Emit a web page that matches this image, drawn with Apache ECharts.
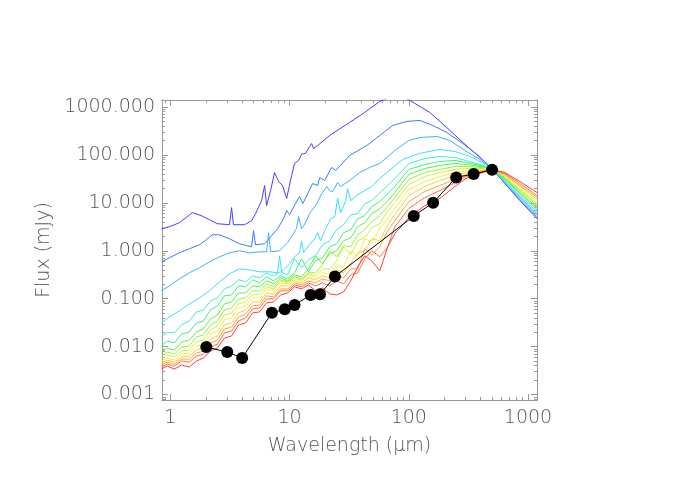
<!DOCTYPE html>
<html>
<head>
<meta charset="utf-8">
<script src="https://cdn.jsdelivr.net/npm/echarts@6/dist/echarts.min.js"></script>
<style>html,body{margin:0;padding:0;background:#fff}#chart{width:700px;height:500px}</style>
</head>
<body>
<div id="chart"></div>
<script>
// model SEDs, blue (top) to red (bottom); first four have their own wavelength sampling
var model1 = [[0.84,2.88],[0.98,3.18],[1.19,3.85],[1.53,6.25],[1.82,5.40],[2.13,4.45],[2.48,3.67],[3.13,3.50],[3.26,7.95],[3.38,3.50],[4.19,3.50],[4.80,4.25],[5.18,5.95],[5.82,11.1],[6.17,23.0],[6.41,8.76],[6.92,18.0],[7.48,43.0],[8.09,27.8],[8.73,23.0],[9.44,12.3],[10.4,37.2],[11.0,66.4],[11.9,76.7],[12.6,103],[13.6,108],[14.7,150],[15.3,173],[15.9,136],[17.2,157],[21.7,255],[31.9,476],[42.7,771],[57.1,1310],[69.3,1590],[84,1750],[102,1375],[150,771],[208,374],[284,182],[395,88.7],[498,52.1],[641,25.3],[857,11.1],[1190,4.67]];
var model2 = [[0.84,0.589],[0.98,0.714],[1.19,0.908],[1.44,1.10],[1.75,1.335],[2.0,1.70],[2.25,2.16],[2.58,2.16],[3.13,1.78],[3.8,1.40],[4.43,1.27],[4.8,1.21],[4.98,2.62],[5.18,1.335],[6.17,1.40],[7.06,2.06],[7.93,2.88],[8.9,4.67],[9.44,6.88],[10.0,5.67],[11.2,9.65],[12.1,13.5],[12.9,9.65],[14.2,15.6],[15.6,25.3],[17.2,23.0],[17.9,33.8],[19.7,29.2],[22.5,54.7],[24.4,47.3],[31.9,97.7],[44.4,157],[57.1,255],[73.4,412],[96,500],[124,525],[159,412],[208,294],[284,173],[373,103],[498,52.1],[641,25.3],[857,11.7],[1190,5.15]];
var model3 = [[0.84,0.146],[0.98,0.185],[1.19,0.259],[1.44,0.347],[1.75,0.441],[2.13,0.589],[2.58,0.749],[3.13,0.908],[3.8,1.0],[4.61,0.908],[5.82,0.953],[6.41,0.953],[6.66,2.38],[6.92,0.953],[8.24,1.0],[9.62,1.47],[10.6,2.16],[11.4,2.88],[11.9,5.15],[12.6,2.88],[13.6,3.85],[14.7,5.95],[16.9,9.65],[18.6,15.6],[20.5,21.9],[21.7,18.0],[23.0,17.2],[25.3,26.5],[26.8,21.9],[31.9,29.2],[38.7,43.0],[47.0,54.7],[57.1,66.4],[76.3,124],[100,200],[124,231],[172,243],[221,200],[295,124],[395,80.5],[498,52.1],[641,26.5],[857,12.9],[1190,5.67]];
var model4 = [[0.84,0.0312],[0.98,0.0416],[1.19,0.0556],[1.44,0.0778],[1.75,0.104],[2.13,0.146],[2.58,0.225],[3.13,0.330],[3.8,0.420],[4.61,0.401],[5.6,0.364],[6.79,0.364],[7.91,0.347],[8.24,0.786],[8.57,0.364],[10.0,0.535],[11.0,0.749],[12.1,0.908],[12.6,1.62],[13.1,0.908],[14.7,1.335],[16.2,1.78],[17.2,2.38],[18.2,1.62],[20.1,2.88],[22.1,4.67],[23.9,5.15],[25.3,12.3],[26.8,6.25],[29.6,11.1],[30.7,19.9],[32.6,11.1],[37.3,14.9],[42.7,18.0],[48.9,21.9],[57.1,32.2],[71.9,52.1],[89.1,80.5],[124,108],[182,130],[244,118],[326,93.1],[410,69.7],[498,52.1],[641,27.8],[857,13.5],[1190,5.95]];

// remaining models share one wavelength grid (um)
var lowGrid = [0.84,0.94,1.08,1.24,1.44,1.65,1.89,2.17,2.48,2.84,3.26,3.73,4.27,4.89,5.6,6.41,7.34,8.4,9.62,11.0,12.6,14.4,16.5,18.9,21.7,24.8,28.4,32.6,37.3,42.7,48.9,57.1,66.6,76.3,100,136,182,244,301,395,498,641,857,1190];
var model5 = [0.016,0.020,0.0193,0.0283,0.0343,0.053,0.058,0.090,0.104,0.160,0.185,0.248,0.225,0.300,0.273,0.346,0.300,0.363,0.315,0.68,0.44,0.65,0.79,1.34,1.62,2.75,3.5,5.66,5.94,9.6,11.1,16.3,22.9,32,66,84,92.6,88.2,76.3,63,52,29.1,14.2,6.55];
var model6 = [0.0103,0.0131,0.0119,0.0184,0.0202,0.0312,0.0343,0.0583,0.0706,0.1145,0.120,0.185,0.177,0.247,0.214,0.286,0.236,0.300,0.259,0.347,0.680,0.364,0.618,0.714,1.21,1.40,2.38,2.75,4.67,5.40,8.35,10.6,15.6,21.9,49.7,63.2,73.1,76.7,69.7,60.3,52.1,30.7,15.6,7.22];
var model7 = [0.0077,0.00935,0.0085,0.0125,0.0137,0.0202,0.0233,0.0378,0.0458,0.0778,0.0857,0.132,0.132,0.185,0.177,0.236,0.204,0.272,0.236,0.315,0.286,0.420,0.786,0.535,0.866,1.0,1.62,1.87,3.18,3.85,5.95,7.58,11.1,16.4,39.0,52.1,60.3,66.4,63.2,57.4,52.1,32.2,16.4,7.95];
var model8 = [0.00636,0.0077,0.0070,0.0098,0.0103,0.0159,0.0175,0.0283,0.0343,0.0583,0.0642,0.099,0.104,0.146,0.146,0.204,0.177,0.247,0.225,0.286,0.259,0.347,0.347,0.510,1.0,0.749,1.27,1.21,2.16,2.75,4.05,5.40,8.35,12.9,30.7,43.0,49.7,57.4,57.4,54.7,52.1,33.8,18.0,8.76];
var model9 = [0.0055,0.00667,0.00606,0.0081,0.0085,0.0125,0.0137,0.0222,0.027,0.0458,0.0505,0.0778,0.0857,0.120,0.126,0.177,0.160,0.236,0.214,0.286,0.247,0.330,0.300,0.420,0.420,0.618,1.21,0.825,1.62,1.87,3.03,3.67,6.88,10.1,24.1,35.4,43.0,49.7,52.1,52.1,52.1,35.4,18.9,9.65];
var model10 = [0.0050,0.00578,0.00525,0.0070,0.00735,0.0103,0.0113,0.0184,0.0212,0.036,0.0397,0.0642,0.0706,0.104,0.104,0.160,0.146,0.214,0.204,0.259,0.236,0.300,0.272,0.347,0.330,0.510,0.463,1.0,0.749,1.78,1.54,2.88,4.67,7.58,18.9,27.8,35.4,43.0,47.3,49.7,49.7,37.2,19.9,10.6];
var model11 = [0.00454,0.00525,0.00476,0.00606,0.00636,0.0085,0.00935,0.0144,0.0167,0.0283,0.0312,0.0505,0.0583,0.0857,0.0857,0.132,0.126,0.185,0.185,0.236,0.214,0.272,0.247,0.300,0.272,0.401,0.347,0.561,0.908,1.0,1.78,1.62,3.50,5.67,14.2,21.9,29.2,37.2,43.0,47.3,49.7,39.0,21.9,11.7];
var model12 = [0.00412,0.00476,0.00432,0.0055,0.0055,0.00735,0.0081,0.0119,0.0137,0.0233,0.0257,0.0416,0.0481,0.0706,0.0741,0.1145,0.109,0.160,0.160,0.214,0.194,0.236,0.214,0.259,0.236,0.315,0.272,0.420,0.420,1.10,0.825,1.21,2.62,4.25,10.6,17.2,23.0,30.7,39.0,45.1,49.7,39.0,23.0,12.9];
var model13 = [0.00374,0.00432,0.00393,0.0050,0.00476,0.00636,0.0070,0.0098,0.0113,0.0193,0.0212,0.0343,0.0397,0.0612,0.0642,0.099,0.099,0.146,0.146,0.194,0.177,0.214,0.185,0.214,0.185,0.236,0.204,0.315,0.347,0.680,1.0,0.749,1.21,3.18,7.58,12.9,18.0,26.5,35.4,43.0,49.7,41.0,25.3,14.2];
var model14 = [0.0034,0.00393,0.0034,0.00412,0.00374,0.0050,0.00578,0.0081,0.00935,0.0151,0.0167,0.0283,0.0312,0.0505,0.053,0.0817,0.0857,0.120,0.132,0.177,0.160,0.194,0.146,0.168,0.126,0.120,0.139,0.236,0.463,0.786,0.618,0.382,1.21,2.27,4.91,8.76,12.3,21.9,32.2,41.0,49.7,43.0,27.8,16.4];

var modelColors = ['#4a3cff','#3c78ff','#3cb0ff','#3cdcff','#3cf0c8','#3cf080','#5cf03c','#98f03c','#ccf03c','#f4f03c','#ffcc3c','#ffa03c','#ff703c','#ff3c3c'];

// observed photometry
var obsWave = [2.0,3.0,4.0,7.1,9.1,11,15,18,24,110,160,250,350,500];
var obsFlux = [0.0098,0.0077,0.0058,0.051,0.060,0.074,0.12,0.124,0.29,5.3,10.1,34,40,49];

var majorX = [1,10,100,1000];
var majorY = [0.001,0.01,0.1,1,10,100,1000];
var X_MIN = 0.85, X_MAX = 1190, Y_MIN = 0.00077, Y_MAX = 1400;

function minorTicks(lo, hi) {
    var out = [];
    for (var e = -4; e <= 3; e++) {
        for (var m = 2; m <= 9; m++) {
            var v = Number((m * Math.pow(10, e)).toPrecision(3));
            if (v > lo && v < hi) out.push(v);
        }
    }
    return out;
}
var minorX = minorTicks(X_MIN, X_MAX);
var minorY = minorTicks(Y_MIN, Y_MAX);

var FONT = 'DejaVu Sans';
var AX = '#999';

function makeAxis(type, grid, pos, ticks, len, withLabels) {
    var isX = type === 'x';
    var ax = {
        type: 'log', logBase: 10, gridIndex: grid, position: pos,
        min: isX ? X_MIN : Y_MIN, max: isX ? X_MAX : Y_MAX,
        axisLine: {show: true, onZero: false, lineStyle: {color: AX, width: 1}},
        axisTick: {show: true, inside: true, length: len, customValues: ticks, lineStyle: {color: AX, width: 1}},
        axisLabel: {show: false},
        splitLine: {show: false},
        minorTick: {show: false}
    };
    if (withLabels) {
        ax.axisLabel = {
            show: true,
            customValues: isX ? majorX : majorY,
            formatter: function (v) { return isX ? String(Math.round(v)) : Number(v).toFixed(3); },
            color: '#555', fontFamily: FONT, fontSize: 19, fontWeight: 300,
            margin: isX ? 9 : 7
        };
        ax.nameLocation = 'middle';
        ax.nameTextStyle = {color: '#555', fontFamily: FONT, fontSize: 19, fontWeight: 300};
        if (isX) { ax.name = 'Wavelength (\u03bcm)'; ax.nameGap = 37; }
        else { ax.name = 'Flux (mJy)'; ax.nameGap = 52; }
    }
    return ax;
}

var gridBox = {left: 162, top: 100, width: 375, height: 300};

var modelData = [model1, model2, model3, model4];
var lowModels = [model5, model6, model7, model8, model9, model10, model11, model12, model13, model14];
lowModels.forEach(function (flux) {
    modelData.push(lowGrid.map(function (w, i) { return [w, flux[i]]; }));
});

var series = modelData.map(function (d, i) {
    return {
        type: 'line', xAxisIndex: 0, yAxisIndex: 0, data: d,
        showSymbol: false, symbol: 'none', clip: true, silent: true,
        lineStyle: {color: modelColors[i], width: 1}, z: 2
    };
});
series.push({
    type: 'line', xAxisIndex: 0, yAxisIndex: 0,
    data: obsWave.map(function (w, i) { return [w, obsFlux[i]]; }),
    symbol: 'circle', symbolSize: 12, showSymbol: true, silent: true,
    itemStyle: {color: '#000'}, lineStyle: {color: '#000', width: 1}, z: 5
});

var chart = echarts.init(document.getElementById('chart'));
chart.setOption({
    animation: false,
    backgroundColor: '#fff',
    grid: [
        Object.assign({}, gridBox),
        Object.assign({}, gridBox)
    ],
    xAxis: [
        makeAxis('x', 0, 'bottom', majorX, 6, true),
        makeAxis('x', 0, 'top', majorX, 6, false),
        makeAxis('x', 1, 'bottom', minorX, 3, false),
        makeAxis('x', 1, 'top', minorX, 3, false)
    ],
    yAxis: [
        makeAxis('y', 0, 'left', majorY, 6, true),
        makeAxis('y', 0, 'right', majorY, 6, false),
        makeAxis('y', 1, 'left', minorY, 3, false),
        makeAxis('y', 1, 'right', minorY, 3, false)
    ],
    series: series
});
</script>
</body>
</html>
